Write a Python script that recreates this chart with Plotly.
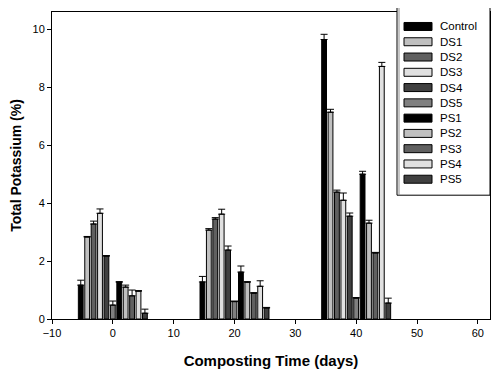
import plotly.graph_objects as go

days = [0, 20, 40]
series = ["Control", "DS1", "DS2", "DS3", "DS4", "DS5", "PS1", "PS2", "PS3", "PS4", "PS5"]
colors = ["#000000", "#c0c0c0", "#606060", "#e0e0e0", "#404040", "#808080",
          "#000000", "#c0c0c0", "#606060", "#e0e0e0", "#404040"]

values = {
    "Control": [1.17, 1.28, 9.65],
    "DS1": [2.83, 3.07, 7.14],
    "DS2": [3.28, 3.45, 4.38],
    "DS3": [3.65, 3.62, 4.10],
    "DS4": [2.17, 2.38, 3.55],
    "DS5": [0.48, 0.60, 0.72],
    "PS1": [1.27, 1.62, 5.00],
    "PS2": [1.10, 1.27, 3.31],
    "PS3": [0.80, 0.89, 2.28],
    "PS4": [0.96, 1.13, 8.72],
    "PS5": [0.20, 0.38, 0.55],
}
errors = {
    "Control": [0.17, 0.19, 0.18],
    "DS1": [0.02, 0.05, 0.10],
    "DS2": [0.10, 0.05, 0.07],
    "DS3": [0.15, 0.17, 0.25],
    "DS4": [0.02, 0.14, 0.11],
    "DS5": [0.14, 0.02, 0.02],
    "PS1": [0.02, 0.21, 0.10],
    "PS2": [0.07, 0.02, 0.10],
    "PS3": [0.20, 0.02, 0.02],
    "PS4": [0.02, 0.19, 0.14],
    "PS5": [0.14, 0.02, 0.17],
}

# page body has an 8px margin; figure sized so it fits in the 500x379 window
OFF = 8
W, H = 492, 371
ML, MR, MT, MB = 44, 10, 3.5, 60
PW, PH = W - ML - MR, H - MT - MB


def px(x):  # window pixel -> paper x
    return (x - OFF - ML) / PW


def py(y):  # window pixel -> paper y
    return (H - MB - (y - OFF)) / PH


fig = go.Figure()
for name, col in zip(series, colors):
    fig.add_trace(go.Bar(
        x=days, y=values[name], name=name, showlegend=False,
        marker=dict(color=col, line=dict(color="#000000", width=1)),
        error_y=dict(type="data", symmetric=False, array=errors[name],
                     arrayminus=[0, 0, 0], color="#000000", thickness=1, width=3.5),
    ))

# Legend box drawn in paper coordinates
shapes = [dict(type="rect", xref="paper", yref="paper",
               x0=px(397), x1=px(490), y0=py(195), y1=py(-5),
               line=dict(color="#000000", width=1), fillcolor="white", layer="above")]
shapes.append(dict(type="line", xref="paper", yref="paper",
                   x0=px(399), x1=px(399), y0=py(195), y1=py(-5),
                   line=dict(color="#909090", width=1), layer="above"))
annotations = []
for i, (name, col) in enumerate(zip(series, colors)):
    cy = 26 + i * 15.3
    shapes.append(dict(type="rect", xref="paper", yref="paper",
                       x0=px(404), x1=px(432), y0=py(cy + 4), y1=py(cy - 4),
                       line=dict(color="#000000", width=1), fillcolor=col, layer="above"))
    annotations.append(dict(xref="paper", yref="paper", x=px(438), y=py(cy),
                            xanchor="left", yanchor="middle", text=name, showarrow=False,
                            font=dict(size=11.5, color="#000000")))

font = "Arial, Liberation Sans, sans-serif"
fig.update_layout(
    width=W, height=H,
    barmode="group", bargap=0.42, bargroupgap=0.25,
    paper_bgcolor="white", plot_bgcolor="white",
    margin=dict(l=ML, r=MR, t=MT, b=MB),
    font=dict(family=font, size=11, color="#000000"),
    showlegend=False,
    shapes=shapes, annotations=annotations,
    xaxis=dict(range=[-10, 62], tickmode="array", tickvals=list(range(-10, 61, 10)),
               ticks="outside", ticklen=4, tickcolor="#000000", automargin=False,
               showline=True, linecolor="#000000", linewidth=1, mirror=True,
               showgrid=False, zeroline=False,
               title=dict(text="<b>Composting Time (days)</b>", font=dict(size=15), standoff=17)),
    yaxis=dict(range=[0, 10.6], tickmode="array", tickvals=[0, 2, 4, 6, 8, 10],
               ticks="outside", ticklen=4, tickcolor="#000000", automargin=False,
               showline=True, linecolor="#000000", linewidth=1, mirror=True,
               showgrid=False, zeroline=False,
               title=dict(text="<b>Total Potassium (%)</b>", font=dict(size=14), standoff=13)),
)

fig.write_html("out.html")
